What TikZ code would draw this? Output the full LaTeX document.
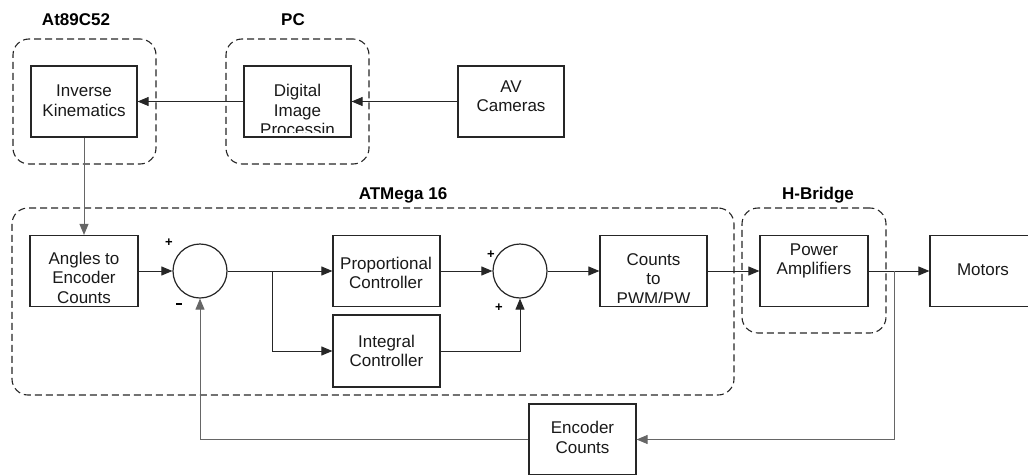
\documentclass[tikz,border=0pt]{standalone}
\usepackage{fontspec}
\setmainfont{Liberation Sans}
\usetikzlibrary{arrows.meta}
\begin{document}
\begin{tikzpicture}[x=1pt,y=-1pt,
 blk/.style={draw=black!85,line width=1.2pt,minimum width=107pt,minimum height=71pt,inner sep=0pt},
 txt/.style={font=\fontsize{17}{19.5}\selectfont,align=center,inner sep=0pt,text=black!90},
 sumc/.style={draw=black!85,line width=1.2pt,circle,minimum size=54pt,inner sep=0pt},
 grp/.style={draw=black!85,line width=1.1pt,dash pattern=on 7pt off 4pt,rounded corners=16pt,inner sep=0pt},
 grplbl/.style={font=\bfseries\fontsize{17}{20}\selectfont,inner sep=0pt},
 conn/.style={draw=black!85,line width=0.9pt,-{Triangle[length=11pt,width=9pt]}},
 fb/.style={conn,draw=black!60},
 sgn/.style={font=\bfseries\fontsize{13}{13}\selectfont,inner sep=0pt}]
\useasboundingbox (0,0) rectangle (1028,474);
\clip (0,0) rectangle (1028,474);

% group frames
\node[grp,minimum width=143pt,minimum height=125pt] (gat) at (84.5,101.5) {};
\node[grp,minimum width=143pt,minimum height=125pt] (gpc) at (297.5,101.5) {};
\node[grp,minimum width=722pt,minimum height=187pt] (gmega) at (373,301.5) {};
\node[grp,minimum width=144pt,minimum height=125pt] (ghb) at (814,270.5) {};
\node[grplbl] (lat) at (76,20) {At89C52};
\node[grplbl] (lpc) at (293,20) {PC};
\node[grplbl] (lmega) at (403,195) {ATMega 16};
\node[grplbl] (lhb) at (818,195) {H-Bridge};

% blocks
\node[blk,minimum width=106pt] (ik) at (84,101.5) {};
\node[blk,minimum width=107pt] (dip) at (297.5,101.5) {};
\node[blk,minimum width=106pt] (av) at (511,101.5) {};
\node[blk,minimum width=108pt] (ang) at (84,271) {};
\node[blk] (prop) at (386.5,271) {};
\node[blk,minimum height=72pt] (integ) at (386.5,351) {};
\node[blk] (cnt) at (653.5,271) {};
\node[blk,minimum width=108pt] (pa) at (814,271) {};
\node[blk,minimum width=106pt] (mot) at (983,271) {};
\node[blk] (enc) at (582.5,439.5) {};
\node[sumc] (s1) at (200,271) {};
\node[sumc] (s2) at (520,271) {};

% texts
\node[txt] (ikt) at (84,100.5) {Inverse\\Kinematics};
\begin{scope}
\clip (245,67) rectangle (350,132);
\node[txt] (dipt) at (297.5,110) {Digital\\Image\\Processin};
\end{scope}
\node[txt] (avt) at (511,96) {AV\\Cameras};
\node[txt] (angt) at (84,277.5) {Angles to\\Encoder\\Counts};
\node[txt] (propt) at (386,273) {Proportional\\Controller};
\node[txt] (integt) at (386.5,351) {Integral\\Controller};
\begin{scope}
\clip (601,236) rectangle (706,302);
\node[txt] (cntt) at (653.5,279) {Counts\\to\\PWM/PW};
\end{scope}
\node[txt] (pat) at (814,261) {Power\\Amplifiers};
\node[txt] (mott) at (983,270) {Motors};
\node[txt] (enct) at (582.5,437.5) {Encoder\\Counts};

% signs
\node[sgn] (p1) at (169,243) {+};
\node[sgn] (m1) at (179,304) {\rule{6pt}{2pt}};
\node[sgn] (p2) at (491,255) {+};
\node[sgn] (p3) at (499,308) {+};

% connectors
\draw[conn] (av.west) -- (dip.east);
\draw[conn] (dip.west) -- (ik.east);
\draw[fb] (ik.south) -- (ang.north);
\draw[conn] (ang.east) -- (s1.west);
\draw[conn] (s1.east) -- (prop.west);
\coordinate (br1) at (272,271);
\draw[conn] (br1) |- (integ.west);
\draw[conn] (prop.east) -- (s2.west);
\draw[conn] (integ.east) -| (s2.south);
\draw[conn] (s2.east) -- (cnt.west);
\draw[conn] (cnt.east) -- (pa.west);
\draw[conn] (pa.east) -- (mot.west);
\coordinate (br2) at (894,271);
\draw[fb] (br2) |- (enc.east);
\draw[fb] (enc.west) -| (s1.south);
\end{tikzpicture}
\end{document}
